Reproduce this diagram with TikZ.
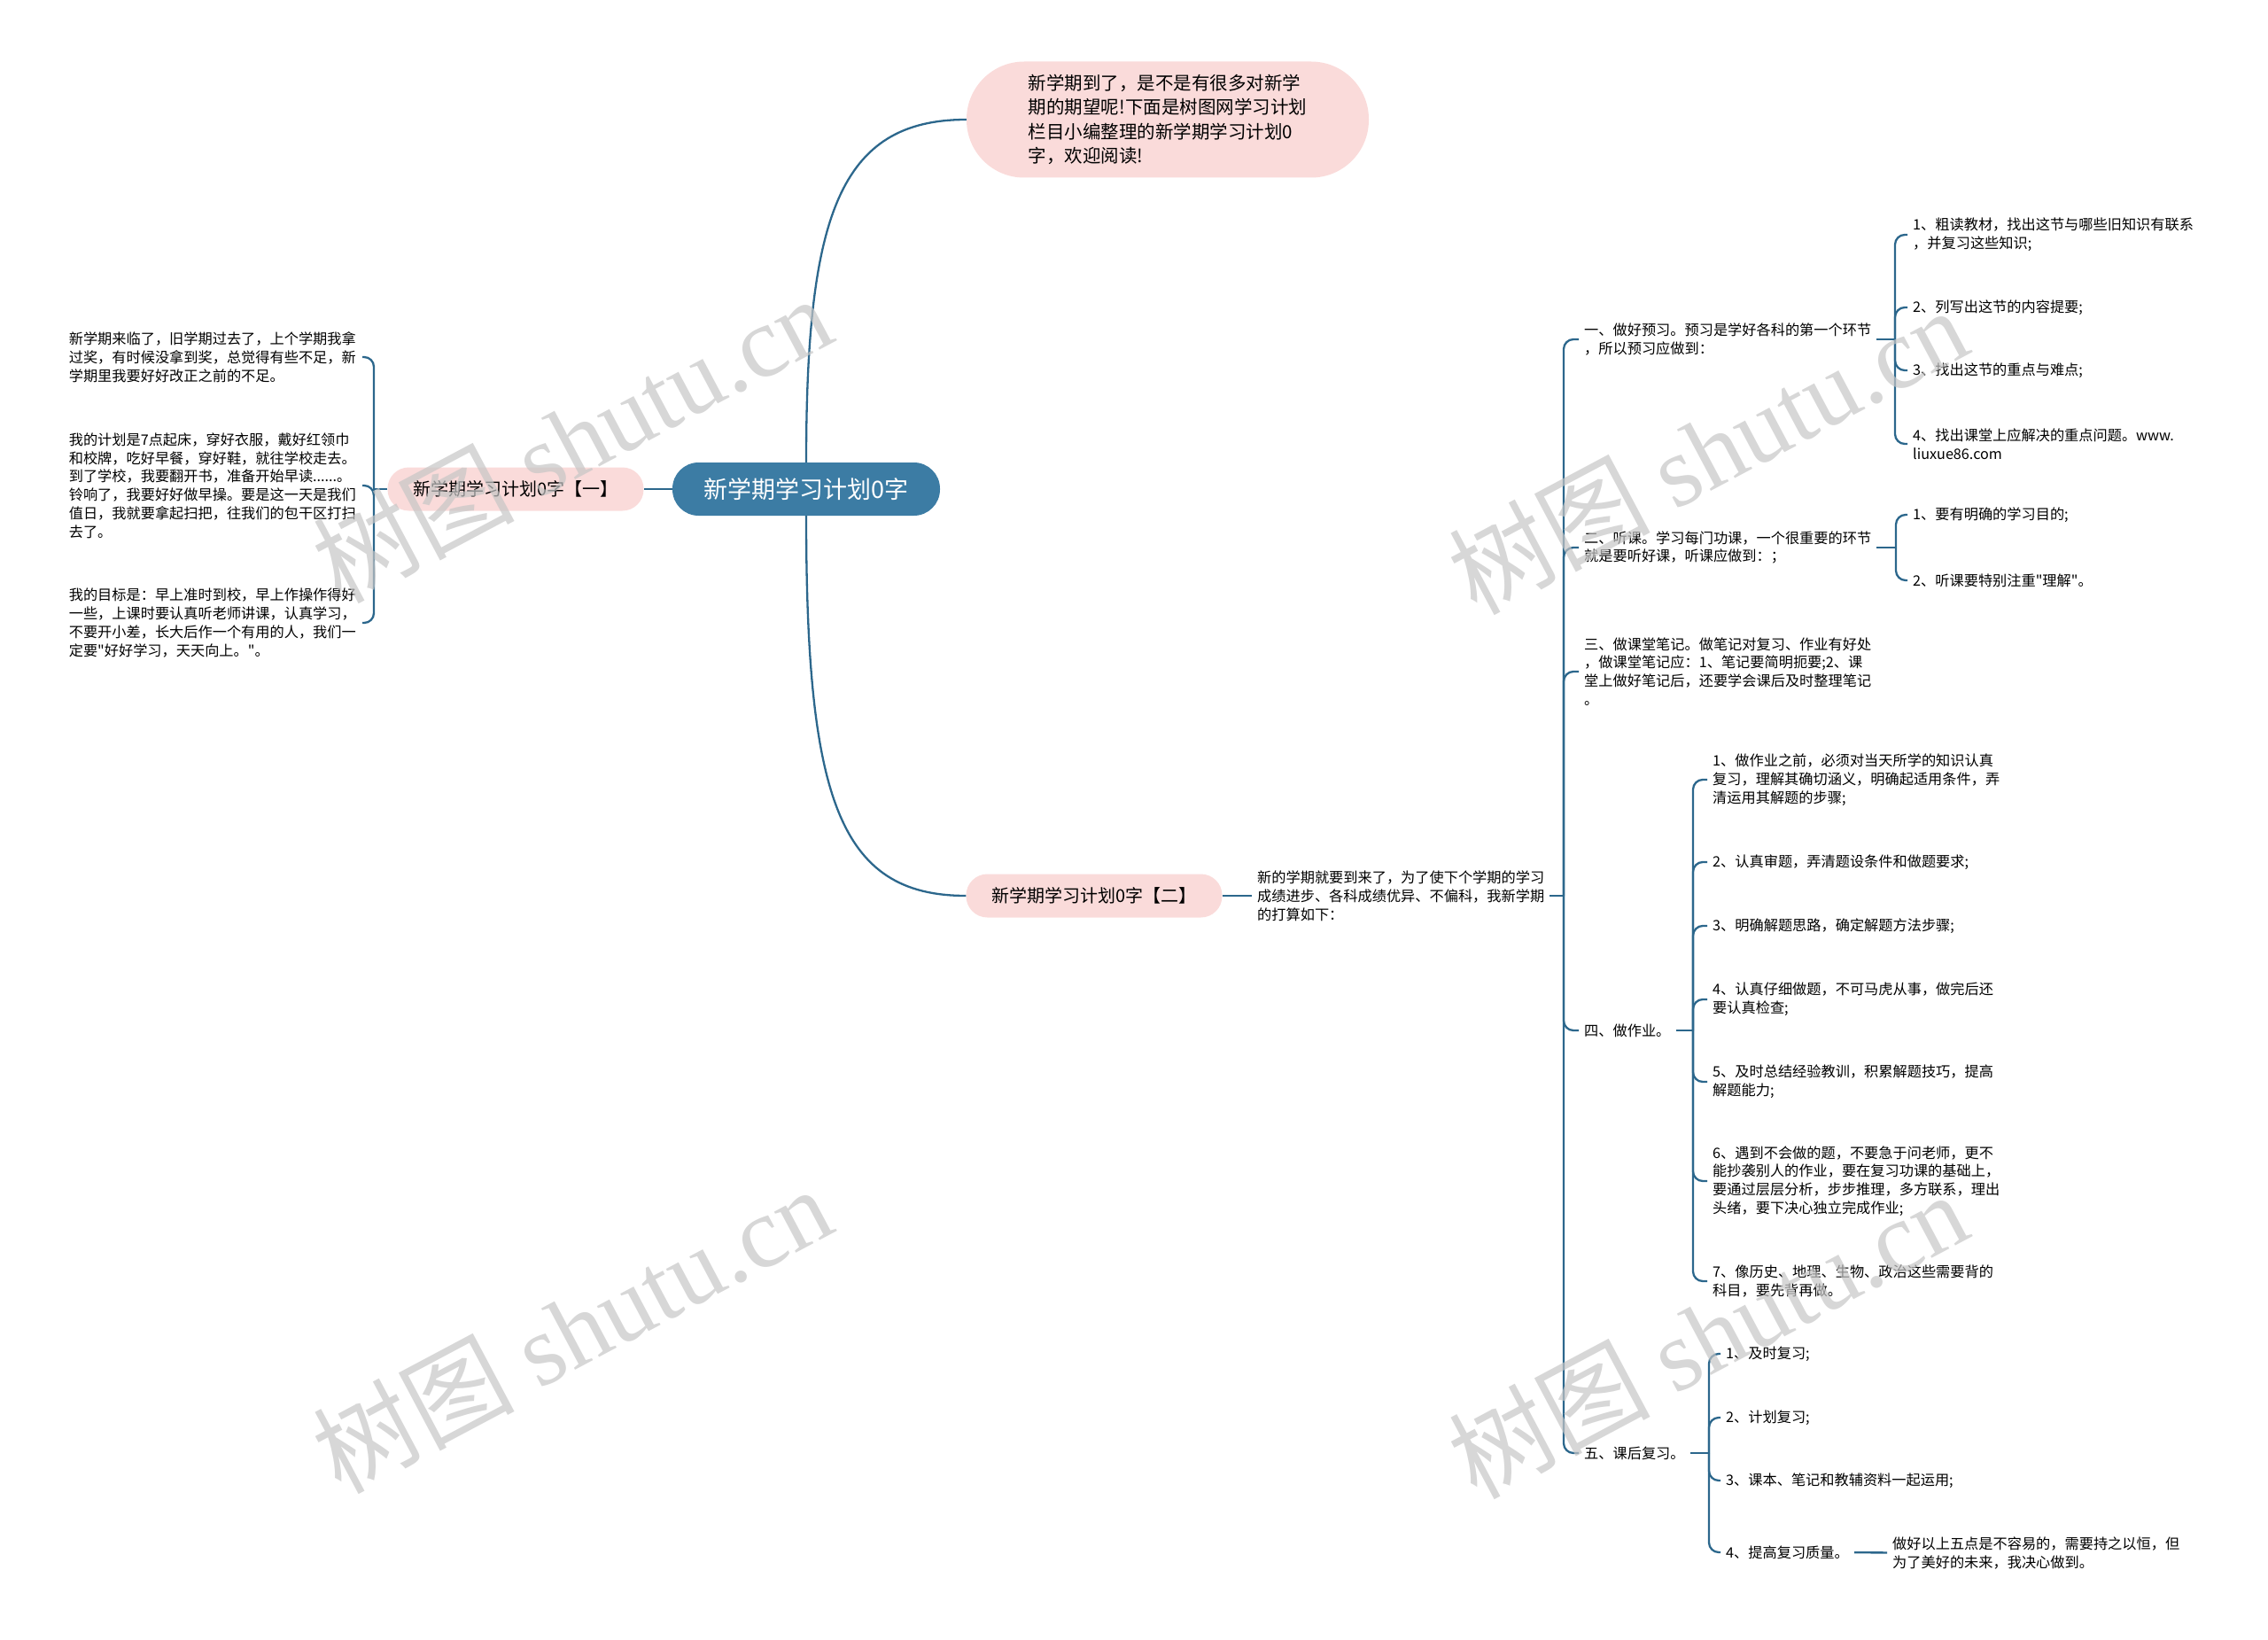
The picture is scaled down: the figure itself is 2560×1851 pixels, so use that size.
\documentclass[tikz,border=0pt]{standalone}
\usepackage{fontspec}
\setmainfont{Noto Sans CJK SC}[Ligatures=TeXOff]
\newfontfamily\wmserif{Liberation Serif}

\definecolor{rootblue}{RGB}{60,124,164}
\definecolor{linkblue}{RGB}{44,103,140}
\definecolor{pinkfill}{RGB}{250,219,218}

\tikzset{
  leaf/.style={inner xsep=6pt, inner ysep=2pt, align=left, font=\fontsize{16.2}{20.8}\selectfont},
  link/.style={draw=linkblue, line width=2.3pt},
  brace/.style={link, rounded corners=11pt},
  pill/.style={fill=pinkfill, rounded corners=24pt, minimum width=289pt, minimum height=49pt,
    font=\fontsize{20}{24}\selectfont},
  watermark/.style={rotate=28, text=gray!45, text opacity=0.7, font=\fontsize{114}{114}\selectfont}
}

\begin{document}
\begin{tikzpicture}[x=1pt,y=-1pt]
\useasboundingbox (0,0) rectangle (2560,1851);

% main topic and first level
\node[fill=rootblue, text=white, rounded corners=29.5pt, minimum width=302pt, minimum height=60pt,
  font=\fontsize{27}{30}\selectfont] (root) at (910,552) {新学期学习计划0字};
\node[fill=pinkfill, rounded corners=65pt, minimum width=454pt, minimum height=131pt, align=left,
  font=\fontsize{20.5}{27.5}\selectfont] (intro) at (1318,135)
  {新学期到了，是不是有很多对新学\\期的期望呢!下面是树图网学习计划\\栏目小编整理的新学期学习计划0\\字，欢迎阅读!};
\node[pill] (b1) at (582,552) {新学期学习计划0字【一】};
\node[pill] (b2) at (1235,1011) {新学期学习计划0字【二】};

\draw[link] (root) -- (b1);
\draw[link] (root.north) .. controls +(0,-277) and +(-144,0) .. (intro.west);
\draw[link] (root.south) .. controls +(0,317) and +(-144,0) .. (b2.west);

% left branch
\coordinate (b1j) at (422,552);
\draw[link] (b1) -- (b1j);
\foreach \y/\t [count=\i] in {
  403/{新学期来临了，旧学期过去了，上个学期我拿\\过奖，有时候没拿到奖，总觉得有些不足，新\\学期里我要好好改正之前的不足。},
  548/{我的计划是7点起床，穿好衣服，戴好红领巾\\和校牌，吃好早餐，穿好鞋，就往学校走去。\\到了学校，我要翻开书，准备开始早读......。\\铃响了，我要好好做早操。要是这一天是我们\\值日，我就要拿起扫把，往我们的包干区打扫\\去了。},
  703/{我的目标是：早上准时到校，早上作操作得好\\一些，上课时要认真听老师讲课，认真学习，\\不要开小差，长大后作一个有用的人，我们一\\定要"好好学习，天天向上。"。}} {
  \node[leaf, text width=325pt, anchor=east] (c\i) at (409,\y) {\t};
  \draw[brace] (b1j) |- (c\i.east);
}

% right branch
\node[leaf, anchor=west] (b2txt) at (1413,1011)
  {新的学期就要到来了，为了使下个学期的学习\\成绩进步、各科成绩优异、不偏科，我新学期\\的打算如下：};
\draw[link] (b2) -- (b2txt);
\coordinate (b2j) at (1765,1011);
\draw[link] (b2txt) -- (b2j);

\foreach \y/\t [count=\i] in {
  383/{一、做好预习。预习是学好各科的第一个环节\\，所以预习应做到：},
  618/{二、听课。学习每门功课，一个很重要的环节\\就是要听好课，听课应做到：；},
  758/{三、做课堂笔记。做笔记对复习、作业有好处\\，做课堂笔记应：1、笔记要简明扼要;2、课\\堂上做好笔记后，还要学会课后及时整理笔记\\。},
  1163/{四、做作业。},
  1640/{五、课后复习。}} {
  \node[leaf, anchor=west] (s\i) at (1782,\y) {\t};
  \draw[brace] (b2j) |- (s\i.west);
}

\coordinate (s1j) at (2139,383);
\coordinate (s2j) at (2140,618);
\coordinate (s4j) at (1911,1163);
\coordinate (s5j) at (1929,1640);
\draw[link] (s1) -- (s1j);
\draw[link] (s2) -- (s2j);
\draw[link] (s4) -- (s4j);
\draw[link] (s5) -- (s5j);

\foreach \y/\t [count=\i] in {
  265/{1、粗读教材，找出这节与哪些旧知识有联系\\，并复习这些知识;},
  347/{2、列写出这节的内容提要;},
  418/{3、找出这节的重点与难点;},
  501/{4、找出课堂上应解决的重点问题。www.\\liuxue86.com}} {
  \node[leaf, anchor=west] (s1c\i) at (2153,\y) {\t};
  \draw[brace] (s1j) |- (s1c\i.west);
}

\foreach \y/\t [count=\i] in {
  581/{1、要有明确的学习目的;},
  655/{2、听课要特别注重"理解"。}} {
  \node[leaf, anchor=west] (s2c\i) at (2153,\y) {\t};
  \draw[brace] (s2j) |- (s2c\i.west);
}

\foreach \y/\t [count=\i] in {
  880/{1、做作业之前，必须对当天所学的知识认真\\复习，理解其确切涵义，明确起适用条件，弄\\清运用其解题的步骤;},
  973/{2、认真审题，弄清题设条件和做题要求;},
  1045/{3、明确解题思路，确定解题方法步骤;},
  1128/{4、认真仔细做题，不可马虎从事，做完后还\\要认真检查;},
  1221/{5、及时总结经验教训，积累解题技巧，提高\\解题能力;},
  1333/{6、遇到不会做的题，不要急于问老师，更不\\能抄袭别人的作业，要在复习功课的基础上，\\要通过层层分析，步步推理，多方联系，理出\\头绪，要下决心独立完成作业;},
  1446/{7、像历史、地理、生物、政治这些需要背的\\科目，要先背再做。}} {
  \node[leaf, anchor=west] (s4c\i) at (1927,\y) {\t};
  \draw[brace] (s4j) |- (s4c\i.west);
}

\foreach \y/\t [count=\i] in {
  1528/{1、及时复习;},
  1600/{2、计划复习;},
  1671/{3、课本、笔记和教辅资料一起运用;},
  1752/{4、提高复习质量。}} {
  \node[leaf, anchor=west] (s5c\i) at (1942,\y) {\t};
  \draw[brace] (s5j) |- (s5c\i.west);
}

\node[leaf, anchor=west] (s5end) at (2130,1753)
  {做好以上五点是不容易的，需要持之以恒，但\\为了美好的未来，我决心做到。};
\draw[link] (s5c4) -- (s5end);

% watermark
\foreach \x/\y in {645/495, 1927/508, 645/1500, 1927/1506}
  \node[watermark] at (\x,\y) {树图 {\wmserif shutu.cn}};
\end{tikzpicture}
\end{document}
